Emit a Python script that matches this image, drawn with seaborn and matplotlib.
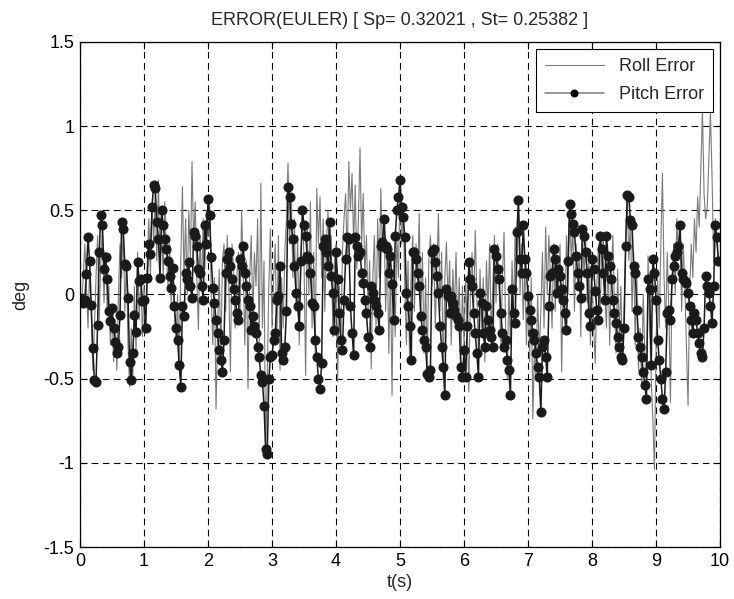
import numpy as np
import pandas as pd
import matplotlib
matplotlib.use("Agg")
import matplotlib.pyplot as plt
import seaborn as sns
from matplotlib.ticker import FormatStrFormatter

# Pitch error samples, dt = 0.025 s (one row = 0.5 s)
pitch = [
    -0.02, -0.04, -0.05, -0.03, 0.12, 0.34, 0.2, -0.06, -0.32, -0.51, -0.52, -0.18, 0.25, 0.47, 0.41, 0.15, 0.22, 0.09, -0.1, -0.16,
    -0.08, -0.2, -0.28, -0.35, -0.31, -0.12, 0.43, 0.39, 0.18, 0.17, -0.02, -0.4, -0.51, -0.35, -0.12, -0.22, 0.19, 0.08, 0.09, -0.04,
    -0.03, -0.2, 0.1, 0.3, 0.24, 0.52, 0.65, 0.63, 0.43, 0.33, 0.1, 0.5, 0.41, 0.33, 0.27, 0.2, 0.11, 0.04, 0.16, -0.07,
    -0.2, -0.27, -0.42, -0.55, -0.07, -0.13, 0.13, 0.09, 0.19, 0.05, -0.02, 0.37, 0.35, 0.29, 0.15, 0.13, 0.05, -0.03, 0.41, 0.3,
    0.57, 0.47, 0.22, 0.04, -0.05, -0.15, -0.23, -0.33, -0.39, -0.46, -0.27, 0.13, 0.21, 0.25, 0.17, 0.09, 0.03, -0.03, -0.11, -0.15,
    0.21, 0.17, 0.29, 0.13, 0.05, -0.03, -0.07, -0.21, -0.13, -0.19, -0.23, -0.31, -0.37, -0.48, -0.52, -0.66, -0.92, -0.95, -0.5, -0.37,
    -0.36, -0.27, -0.23, -0.03, -0.01, 0.17, -0.35, -0.39, -0.31, -0.1, 0.64, 0.58, 0.42, 0.33, 0.17, 0.01, -0.07, -0.19, 0.2, 0.5,
    0.41, 0.35, 0.23, 0.21, 0.13, -0.05, -0.07, -0.27, -0.37, -0.5, -0.56, -0.41, 0.29, 0.33, 0.25, 0.17, 0.43, 0.11, 0.01, -0.21,
    0.25, 0.09, -0.11, -0.27, -0.33, -0.03, 0.21, 0.34, 0.33, -0.07, -0.23, -0.36, 0.34, 0.29, 0.23, 0.25, 0.13, 0.07, -0.03, -0.11,
    -0.25, -0.31, 0.05, 0.01, -0.03, -0.07, -0.11, -0.21, 0.29, 0.31, 0.45, 0.29, 0.27, 0.13, 0.23, 0.06, -0.15, 0.35, 0.5, 0.58,
    0.68, 0.52, 0.46, 0.34, 0.01, -0.07, -0.19, -0.39, 0.25, 0.25, 0.21, 0.13, 0.05, -0.13, -0.21, -0.27, -0.31, -0.47, -0.49, -0.45,
    0.25, 0.27, 0.19, 0.11, 0.01, -0.19, -0.31, -0.43, -0.6, 0.03, -0.01, -0.11, -0.01, -0.05, -0.09, -0.13, -0.15, -0.19, -0.43, -0.49,
    -0.33, -0.49, -0.19, 0.19, 0.09, 0.05, -0.11, -0.23, -0.35, -0.49, 0.01, -0.05, -0.23, -0.31, -0.07, -0.15, -0.21, -0.25, -0.31, 0.27,
    0.23, 0.15, 0.09, -0.11, -0.23, -0.31, -0.27, -0.39, -0.45, -0.6, 0.03, -0.11, -0.17, 0.37, 0.56, 0.21, 0.13, 0.41, 0.21, 0.13,
    -0.01, -0.09, -0.15, -0.23, -0.27, -0.35, -0.43, -0.49, -0.7, -0.31, -0.27, -0.37, -0.49, -0.07, 0.11, 0.13, 0.27, 0.21, 0.01, 0.15,
    0.11, 0.03, -0.03, -0.11, -0.21, 0.2, 0.54, 0.48, 0.42, 0.37, 0.23, 0.13, 0.05, -0.02, 0.39, 0.35, 0.25, 0.13, -0.11, -0.19,
    0.21, 0.15, 0.02, -0.09, -0.15, 0.35, 0.27, 0.13, -0.03, 0.35, 0.23, 0.17, 0.09, -0.03, -0.11, -0.17, -0.25, -0.31, -0.37, -0.39,
    -0.2, 0.29, 0.59, 0.58, 0.44, 0.41, 0.17, 0.13, -0.09, -0.25, -0.31, -0.37, -0.46, -0.54, -0.62, 0.09, 0.03, -0.42, 0.21, 0.13,
    -0.03, -0.27, -0.39, -0.5, -0.62, -0.68, -0.46, -0.11, -0.09, -0.15, 0.09, 0.17, 0.23, 0.25, 0.29, 0.41, 0.13, 0.09, 0.08, 0.07,
    0.01, -0.07, -0.15, -0.23, -0.11, -0.15, -0.23, -0.29, -0.35, -0.37, -0.2, 0.11, 0.05, 0.01, -0.07, -0.17, 0.05, 0.41, 0.34, 0.2,
]

# Roll error samples, dt = 0.025 s
roll = [
    0.0, -0.05, 0.1, 0.3, 0.05, -0.2, 0.15, -0.1, -0.45, -0.2, 0.1, 0.35, -0.15, 0.2, 0.4, -0.05, 0.25, -0.1, 0.05, -0.3,
    -0.1, -0.4, -0.15, -0.45, 0.0, 0.3, 0.1, 0.4, -0.1, 0.2, -0.3, -0.55, -0.2, -0.5, 0.05, -0.35, 0.25, -0.15, 0.1, -0.25,
    0.05, -0.2, 0.2, 0.45, 0.1, 0.55, 0.3, 0.6, 0.2, 0.68, 0.15, 0.4, 0.1, 0.55, 0.25, 0.05, 0.3, -0.05, 0.2, -0.1,
    -0.3, 0.0, -0.45, 0.2, 0.64, 0.1, 0.45, 0.0, 0.5, 0.2, 0.79, 0.3, 0.55, 0.1, -0.21, 0.35, 0.05, 0.45, 0.15, 0.5,
    0.35, 0.55, 0.0, -0.3, 0.1, -0.68, -0.2, 0.15, -0.4, 0.2, 0.3, -0.1, 0.35, 0.05, -0.46, 0.3, 0.15, -0.2, 0.1, 0.25,
    -0.1, 0.5, 0.15, -0.3, 0.2, -0.56, 0.1, 0.35, -0.15, 0.25, 0.05, 0.45, -0.3, 0.66, -0.2, 0.2, -0.96, -0.5, 0.05, 0.39,
    -0.2, 0.1, 0.3, -0.3, 0.35, -0.45, 0.1, -0.2, 0.25, 0.45, 0.78, 0.3, 0.6, 0.1, 0.45, -0.1, 0.35, -0.3, 0.15, 0.5,
    0.2, -0.48, 0.4, 0.0, 0.55, -0.2, 0.25, -0.35, 0.63, 0.3, 0.58, 0.1, 0.45, -0.1, 0.3, 0.5, 0.1, 0.35, -0.25, 0.2,
    0.3, -0.52, 0.05, -0.3, 0.25, 0.45, 0.6, 0.2, 0.79, 0.5, 0.72, 0.3, 0.65, 0.15, 0.45, 0.87, 0.3, 0.6, 0.1, 0.35,
    -0.1, 0.2, -0.44, 0.1, 0.35, -0.2, 0.45, 0.1, 0.63, 0.25, 0.45, -0.1, 0.3, -0.35, 0.15, -0.6, 0.2, -0.25, 0.35, 0.1,
    0.66, 0.3, 0.5, 0.05, -0.3, 0.2, -0.4, 0.15, 0.35, -0.1, 0.3, 0.05, 0.48, -0.15, 0.25, -0.35, 0.1, -0.45, 0.2, 0.35,
    0.05, 0.3, -0.2, 0.15, 0.48, -0.1, 0.25, -0.5, 0.1, 0.31, -0.05, 0.2, -0.3, 0.15, -0.1, 0.25, -0.2, 0.1, -0.4, 0.05,
    -0.3, 0.1, -0.2, -0.58, 0.05, 0.25, -0.1, 0.38, 0.0, -0.35, 0.15, -0.2, 0.1, -0.4, 0.2, -0.1, 0.3, -0.25, 0.05, 0.35,
    -0.05, 0.3, 0.0, -0.3, 0.1, 0.37, -0.2, -0.5, 0.05, -0.3, 0.2, -0.1, 0.4, 0.1, 0.5, 0.0, 0.3, -0.15, 0.2, -0.3,
    0.05, -0.4, 0.1, -0.74, -0.3, -0.5, 0.0, -0.35, -0.1, 0.25, -0.2, 0.4, 0.0, 0.35, 0.1, -0.2, 0.3, -0.1, 0.2, 0.0,
    0.3, -0.46, 0.1, -0.2, 0.35, 0.0, 0.55, 0.2, 0.4, -0.1, 0.3, 0.05, 0.25, -0.25, 0.41, 0.1, 0.35, -0.05, 0.2, -0.3,
    0.1, -0.2, -0.41, 0.05, 0.3, -0.1, 0.2, 0.35, 0.0, -0.2, 0.25, -0.3, 0.1, 0.35, -0.05, -0.35, 0.15, -0.25, 0.05, -0.4,
    -0.1, 0.3, 0.6, 0.2, 0.45, -0.1, 0.25, -0.3, 0.1, -0.45, -0.2, -0.55, 0.0, -0.35, -0.6, 0.23, -0.2, -0.5, -0.75, -1.04,
    -0.3, 0.1, -0.2, 0.3, 0.72, 0.1, -0.2, 0.25, -0.1, -0.64, 0.1, 0.3, 0.0, 0.45, 0.2, 0.4, -0.1, 0.3, 0.05, -0.3,
    -0.66, 0.0, 0.3, 0.1, 0.45, 0.25, 0.58, 0.4, 0.75, 1.1, 0.6, 0.45, 0.52, 0.8, 1.08, 0.7, 0.2, 0.45, 0.3, 0.2,
]

dt = 0.025
x_ticks = list(range(0, 11))
y_ticks = [-1.5, -1, -0.5, 0, 0.5, 1, 1.5]
title = "ERROR(EULER) [ Sp= 0.32021 , St= 0.25382 ]"

t = np.arange(len(pitch)) * dt
df = pd.DataFrame({"t": t, "roll": roll, "pitch": pitch})

sns.set_style("white")
plt.rcParams["font.family"] = ["Liberation Sans", "DejaVu Sans"]
plt.rcParams["axes.unicode_minus"] = False

fig = plt.figure(figsize=(7.34, 5.99), dpi=100)
ax = fig.add_axes([0.109, 0.0868, 0.872, 0.8432])

sns.lineplot(data=df, x="t", y="roll", ax=ax, color="#7a7a7a", linewidth=0.8,
             estimator=None, sort=False, label="Roll Error")
sns.lineplot(data=df, x="t", y="pitch", ax=ax, color="#1a1a1a", linewidth=1.1,
             marker="o", markersize=6.5, markeredgecolor="#1a1a1a",
             estimator=None, sort=False, label="Pitch Error")

ax.set_xlim(0, 10)
ax.set_ylim(-1.5, 1.5)
ax.set_xticks(x_ticks)
ax.set_yticks(y_ticks)
ax.yaxis.set_major_formatter(FormatStrFormatter("%g"))
ax.grid(True, color="black", linestyle=(0, (6, 4)), linewidth=0.8)
ax.tick_params(direction="in", length=5, labelsize=13, colors="black",
               top=True, right=True, bottom=True, left=True, pad=4)
for s in ax.spines.values():
    s.set_color("black")
    s.set_linewidth(0.9)

ax.set_xlabel("t(s)", fontsize=13, labelpad=3)
ax.set_ylabel("deg", fontsize=13, labelpad=10)
ax.set_title(title, fontsize=13, pad=12)

leg = ax.legend(loc="upper right", fontsize=13, frameon=True, fancybox=False,
                edgecolor="black", framealpha=1, handlelength=3.3,
                borderpad=0.5, labelspacing=0.6, borderaxespad=0.4)
leg.get_frame().set_linewidth(0.8)
for h in leg.legend_handles:
    h.set_color("#7a7a7a")
    h.set_markerfacecolor("black")
    h.set_markeredgecolor("black")
    h.set_markersize(5)

fig.savefig("out.png", dpi=100)
